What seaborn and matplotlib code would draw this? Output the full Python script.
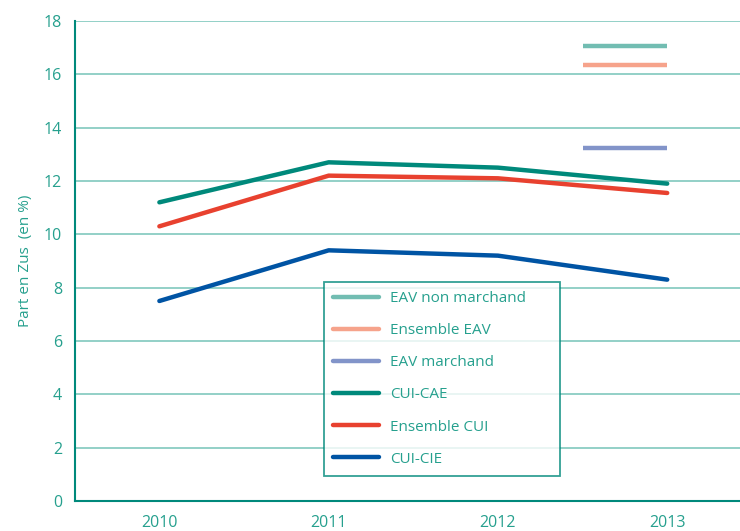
import matplotlib
matplotlib.use('Agg')
import matplotlib.pyplot as plt
import seaborn as sns
import pandas as pd
from matplotlib.lines import Line2D

# ── Data ──────────────────────────────────────────────
years = ['2010', '2011', '2012', '2013']
cui_cae = [11.2, 12.7, 12.5, 11.9]
ensemble_cui = [10.3, 12.2, 12.1, 11.55]
cui_cie = [7.5, 9.4, 9.2, 8.3]

eav_labels = ['EAV non marchand', 'Ensemble EAV', 'EAV marchand']
eav_values = [17.05, 16.35, 13.25]

TEAL = '#00897b'
TXT = '#26a08e'
GRID = '#93d0c7'
eav_colors = ['#72bdb2', '#f6a38b', '#8294c9']
cui_labels = ['CUI-CAE', 'Ensemble CUI', 'CUI-CIE']
cui_colors = ['#00897b', '#e8412f', '#0054a4']

df = pd.DataFrame({
    'year': years * 3,
    'x': list(range(len(years))) * 3,
    'value': cui_cae + ensemble_cui + cui_cie,
    'serie': [s for s in cui_labels for _ in years],
})

sns.set_theme(style='white')
plt.rcParams['font.family'] = ['Open Sans', 'DejaVu Sans']

fig = plt.figure(figsize=(7.4, 5.31), dpi=100)
ax = fig.add_axes([0.101, 0.0565, 0.899, 0.904])

# horizontal grid
for v in range(2, 19, 2):
    ax.axhline(v, color=GRID, lw=1.4, zorder=0)

sns.lineplot(data=df, x='x', y='value', hue='serie', hue_order=cui_labels,
             palette=cui_colors, lw=3.2, ax=ax, legend=False, zorder=3)

# EAV 2013 markers (short horizontal bars over 2013)
i13 = years.index('2013')
for val, col in zip(eav_values, eav_colors):
    ax.hlines(val, i13 - 0.5, i13, color=col, lw=3.2, zorder=3)

ax.set_xlim(-0.5, 3.43)
ax.set_ylim(0, 18)
ax.set_yticks(range(0, 19, 2))
ax.set_xticks(range(len(years)))
ax.set_xticklabels(years)
ax.set_xticks([0.5, 1.5, 2.5], minor=True)
ax.tick_params(axis='x', which='major', length=0, pad=10, labelsize=11.5, labelcolor=TXT)
ax.tick_params(axis='x', which='minor', length=6, width=1.3, color=TEAL, direction='out')
ax.tick_params(axis='y', length=5, width=1.3, color=TEAL, direction='out',
               labelsize=11.5, labelcolor=TXT, pad=4)
ax.set_xlabel('')
ax.set_ylabel('Part en Zus  (en %)', color=TXT, fontsize=11, labelpad=8)

for s in ['top', 'right']:
    ax.spines[s].set_visible(False)
for s in ['left', 'bottom']:
    ax.spines[s].set_color(TEAL)
    ax.spines[s].set_linewidth(1.5)

# Legend
handles = [Line2D([0], [0], color=c, lw=3.2) for c in eav_colors + cui_colors]
labels = eav_labels + cui_labels
leg = ax.legend(handles, labels, loc='upper left',
                bbox_to_anchor=(0.438, 0.369, 0.319, 0.1), mode='expand',
                bbox_transform=fig.transFigure, borderaxespad=0, frameon=True,
                fancybox=False, fontsize=11, labelspacing=1.12, handlelength=3.0,
                handletextpad=0.7, borderpad=0.6)
leg.get_frame().set_edgecolor(TEAL)
leg.get_frame().set_linewidth(1.3)
for t in leg.get_texts():
    t.set_color(TXT)
leg.set_zorder(5)

fig.savefig('out.png', dpi=100)
